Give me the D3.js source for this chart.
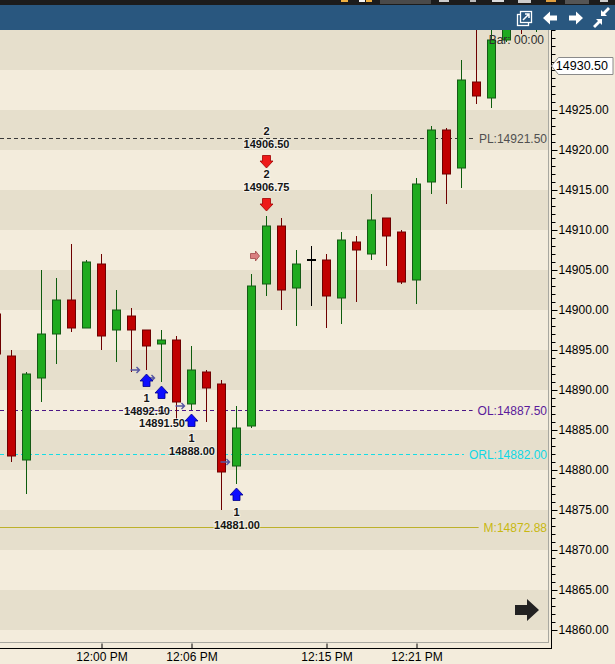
<!DOCTYPE html>
<html><head><meta charset="utf-8">
<script src="https://cdn.jsdelivr.net/npm/d3@7"></script>
<style>
html,body{margin:0;padding:0;background:#f3ecdc;overflow:hidden;}
svg{display:block;font-family:"Liberation Sans",Arial,sans-serif;}
</style></head><body>
<svg id="c" width="615" height="664"></svg>
<script>
// ---------- data ----------
const barTimes = ["11:53","11:54","11:55","11:56","11:57","11:58","11:59","12:00","12:01","12:02",
  "12:03","12:04","12:05","12:06","12:07","12:08","12:09","12:10","12:11","12:12",
  "12:13","12:14","12:15","12:16","12:17","12:18","12:19","12:20","12:21","12:22",
  "12:23","12:24","12:25","12:26","12:27","12:28","12:29"];
const opens  = [14899.5,14894.25,14881.25,14891.5,14897,14901.25,14897.75,14905.75,14897.5,14899.25,
  14897.5,14895.75,14896.25,14888.25,14892.25,14890.75,14880.5,14885.5,14903.25,14910.5,
  14902.75,14906.25,14906.25,14901.5,14908.5,14907,14911.5,14909.75,14903.75,14916,
  14922.5,14917.75,14928.5,14926.5,14933.75,14939,14936.5];
const highs  = [14901,14895,14892.25,14905,14904,14908.25,14906.25,14907,14902.5,14900.25,
  14897.5,14897.5,14896.75,14895.5,14892.5,14891.25,14888,14904.5,14911.75,14911.5,
  14907.5,14908,14907,14909.75,14909.25,14914.5,14911.5,14910,14916.5,14923,
  14922.75,14931.25,14937,14936,14938.5,14940,14939];
const lows   = [14893.5,14881,14877,14888.5,14893.25,14897.25,14897.75,14895,14893.5,14892.25,
  14892.5,14891,14886.25,14887.5,14886,14875,14878.25,14885.25,14901.75,14900,
  14898,14900.5,14897.75,14898.25,14901,14906.25,14905.5,14903.25,14900.75,14914.5,
  14913.25,14915.25,14925.75,14925.25,14933.5,14934.5,14934.75];
const closes = [14894.5,14881.75,14892,14897,14901.25,14897.75,14906,14896.75,14900,14897.5,
  14895.5,14896.25,14888.5,14892.5,14890.25,14879.75,14885.25,14903,14910.5,14902.5,
  14905.75,14906.25,14901.75,14908.75,14907.5,14911.25,14909.25,14903.5,14915.75,14922.5,
  14917,14928.75,14926.75,14933.75,14937.5,14937,14938.5];

const priceTicks = [14860,14865,14870,14875,14880,14885,14890,14895,14900,14905,14910,14915,14920,14925,14930];
const timeTicks = ["12:00","12:06","12:15","12:21"];

const buyTimes  = ["12:03","12:04","12:06","12:09"];
const buyQty    = [1,1,1,1];
const buyPrices = [14892.50,14891.50,14888.00,14881.00];
const sellTimes  = ["12:11","12:11"];
const sellQty    = [2,2];
const sellPrices = [14906.75,14906.50];

const levelNames  = ["PL","OL","ORL","M"];
const levelValues = [14921.50,14887.50,14882.00,14872.88];

const lastPrice = 14930.50;
const barTimerText = "Bar: 00:00";

// ---------- layout ----------
const W = 615, H = 664;
const plotL = 0, plotR = 548.5, plotT = 30, plotB = 642.5;
const axisX = 551.5, axisY = 648.5;
const levelStyles = {
  PL:  {color:"#3a3a3a", label:"#505050", dash:"4,3", width:1},
  OL:  {color:"#4b1685", label:"#5a1a9a", dash:"4,3", width:1},
  ORL: {color:"#14dde6", label:"#10d8e6", dash:"4,3", width:1},
  M:   {color:"#bdb12a", label:"#c8b810", dash:null,  width:1}
};

const parse = d3.timeParse("%H:%M");
const dates = barTimes.map(parse);
const bars = dates.map((d,i)=>({d, o:opens[i], h:highs[i], l:lows[i], c:closes[i]}));

const x = d3.scaleTime().domain([dates[0], dates[dates.length-1]]).range([-3.5, 536.5]);
const y = d3.scaleLinear().domain([14860, 14935]).range([630, 30]);

const svg = d3.select("#c");
svg.append("rect").attr("width",W).attr("height",H).attr("fill","#f3ecdc");

// header
svg.append("rect").attr("x",0).attr("y",0).attr("width",W).attr("height",5).attr("fill","#1c1c1c");
svg.append("rect").attr("x",0).attr("y",5).attr("width",W).attr("height",25).attr("fill","#29577f");
// partial toolbar bits on the top strip
const tb = svg.append("g");
[[341,0,7,2,"#f0b040"],[359,0,6,2,"#f4f4f4"],[366,0,6,2,"#f0b040"],[380,0,51,4,"#4a4a4a"],
 [439,0,10,2,"#cccccc"],[470,0,6,2,"#bbbbbb"],[492,0,12,2,"#dddddd"],[518,0,13,3,"#cccccc"],
 [546,0,10,2,"#e0a040"],[565,0,24,4,"#555555"],[600,0,8,2,"#cccccc"]].forEach(r=>{
  tb.append("rect").attr("x",r[0]).attr("y",r[1]).attr("width",r[2]).attr("height",r[3]).attr("fill",r[4]);
});
// header icons
const ic = svg.append("g").attr("fill","none").attr("stroke","#ffffff").attr("stroke-width",1.3);
ic.append("rect").attr("x",517.5).attr("y",14.5).attr("width",11).attr("height",11);
ic.append("rect").attr("x",520.5).attr("y",11.5).attr("width",11).attr("height",11).attr("fill","#29577f");
ic.append("path").attr("d","M523,20 L529,14 M525,14 L529,14 L529,18").attr("stroke-width",1.5);
svg.append("path").attr("fill","#ffffff")
  .attr("d","M543,18 L550,11.5 L550,15.5 L557,15.5 L557,20.5 L550,20.5 L550,24.5 Z");
svg.append("path").attr("fill","#ffffff")
  .attr("d","M583,18 L576,11.5 L576,15.5 L569,15.5 L569,20.5 L576,20.5 L576,24.5 Z");
svg.append("path").attr("fill","#ffffff")
  .attr("d","M601,16 L601,10 L603,12 L608,7 L610,9 L605,14 L607,16 Z M602,19 L596,19 L598,21 L593,26 L595,28 L600,23 L602,25 Z");

// plot area
const plot = svg.append("g");
const clip = svg.append("clipPath").attr("id","pc");
clip.append("rect").attr("x",plotL).attr("y",plotT).attr("width",plotR-plotL).attr("height",plotB-plotT);

// bands every 5 points
const bandG = plot.append("g").attr("clip-path","url(#pc)");
for (let p = 14850; p < 14940; p += 5) {
  const dark = (((p - 14860) / 5) % 2 + 2) % 2 === 0;
  bandG.append("rect").attr("x",plotL).attr("width",plotR-plotL)
    .attr("y", y(p+5)).attr("height", y(p)-y(p+5))
    .attr("fill", dark ? "#e6dfcc" : "#f3ecdc");
}

// level lines
const lvlG = plot.append("g").attr("clip-path","url(#pc)");
levelNames.forEach((n,i)=>{
  const st = levelStyles[n];
  const yy = Math.round(y(levelValues[i])) + 0.5;
  const t = lvlG.append("text").attr("x",547).attr("y",yy).attr("text-anchor","end")
    .attr("dominant-baseline","central").attr("font-size",12).attr("fill",st.label)
    .text(n + ":" + levelValues[i].toFixed(2));
  const tw = t.node().getComputedTextLength();
  lvlG.insert("line","text").attr("x1",plotL).attr("x2",547 - tw - 5).attr("y1",yy).attr("y2",yy)
    .attr("stroke",st.color).attr("stroke-width",st.width)
    .attr("stroke-dasharray",st.dash);
});

// candles
const cG = plot.append("g").attr("clip-path","url(#pc)");
bars.forEach(b=>{
  const cx = x(b.d);
  const up = b.c > b.o, flat = b.c === b.o;
  const wick = flat ? "#000" : (up ? "#0d5c0d" : "#6e0000");
  cG.append("line").attr("x1",cx).attr("x2",cx).attr("y1",y(b.h)).attr("y2",y(b.l))
    .attr("stroke",wick).attr("stroke-width",1);
  if (flat) {
    cG.append("line").attr("x1",cx-4.5).attr("x2",cx+4.5).attr("y1",y(b.o)).attr("y2",y(b.o))
      .attr("stroke","#000").attr("stroke-width",2);
  } else {
    const top = y(Math.max(b.o,b.c)), bot = y(Math.min(b.o,b.c));
    cG.append("rect").attr("x",cx-4).attr("width",8).attr("y",top).attr("height",Math.max(1,bot-top))
      .attr("fill", up ? "#1faa1f" : "#c00000")
      .attr("stroke", up ? "#145a14" : "#6e0000").attr("stroke-width",1);
  }
});

// execution markers & arrows
const eG = plot.append("g").attr("clip-path","url(#pc)");
const txtStyle = sel => sel.attr("text-anchor","middle").attr("dominant-baseline","central")
  .attr("font-size",11).attr("font-weight","bold").attr("fill","#151515")
  .attr("stroke","rgba(255,255,255,0.55)").attr("stroke-width",2).attr("paint-order","stroke");
const barByTime = t => bars[barTimes.indexOf(t)];

buyTimes.forEach((t,i)=>{
  const b = barByTime(t), cx = x(b.d), py = y(buyPrices[i]);
  eG.append("path").attr("fill","none").attr("stroke","#5555a0").attr("stroke-width",1.4)
    .attr("d",`M${cx-16},${py} L${cx-7},${py} M${cx-10},${py-3} L${cx-7},${py} L${cx-10},${py+3}`);
});
sellTimes.slice(0,1).forEach((t,i)=>{
  const b = barByTime(t), cx = x(b.d), py = y(sellPrices[i]);
  eG.append("path").attr("fill","#d98080").attr("stroke","#a04848").attr("stroke-width",0.8)
    .attr("d",`M${cx-16},${py-2.5} L${cx-11},${py-2.5} L${cx-11},${py-5} L${cx-7},${py} L${cx-11},${py+5} L${cx-11},${py+2.5} L${cx-16},${py+2.5} Z`);
});

buyTimes.forEach((t,i)=>{
  const b = barByTime(t), cx = x(b.d), top = y(b.l) + 4;
  eG.append("path").attr("fill","#0d0dff").attr("stroke","#00008a").attr("stroke-width",0.8)
    .attr("d",`M${cx},${top} L${cx+6.5},${top+7} L${cx+3.5},${top+7} L${cx+3.5},${top+12.5} L${cx-3.5},${top+12.5} L${cx-3.5},${top+7} L${cx-6.5},${top+7} Z`);
  eG.append("text").attr("x",cx).attr("y",top+24).call(txtStyle).text(buyQty[i]);
  eG.append("text").attr("x",cx+0.5).attr("y",top+37).call(txtStyle).text(buyPrices[i].toFixed(2));
});

sellTimes.forEach((t,i)=>{
  const b = barByTime(t), cx = x(b.d);
  const k = sellTimes.slice(0,i).filter(s=>s===t).length;
  const bot = y(b.h) - 5 - k*43;
  eG.append("path").attr("fill","#ee1a1a").attr("stroke","#a00000").attr("stroke-width",0.8)
    .attr("d",`M${cx},${bot} L${cx+6.5},${bot-7} L${cx+4},${bot-7} L${cx+4},${bot-12.5} L${cx-4},${bot-12.5} L${cx-4},${bot-7} L${cx-6.5},${bot-7} Z`);
  eG.append("text").attr("x",cx).attr("y",bot-24).call(txtStyle).text(sellPrices[i].toFixed(2));
  eG.append("text").attr("x",cx).attr("y",bot-37).call(txtStyle).text(sellQty[i]);
});

// frame
svg.append("line").attr("x1",plotR).attr("x2",plotR).attr("y1",plotT).attr("y2",plotB+0.5)
  .attr("stroke","#a8a8a0");
svg.append("line").attr("x1",plotL).attr("x2",plotR).attr("y1",plotB).attr("y2",plotB)
  .attr("stroke","#a8a8a0");

// right axis
const yAxisMinor = d3.axisRight(y).tickValues(d3.range(14860,14936,1)).tickSize(4).tickFormat("");
const yAxis = d3.axisRight(y).tickValues(priceTicks).tickSize(6).tickPadding(1)
  .tickFormat(d=>d.toFixed(2));
const ya1 = svg.append("g").attr("transform",`translate(${axisX},0)`).call(yAxisMinor);
const ya2 = svg.append("g").attr("transform",`translate(${axisX},0)`).call(yAxis);
[ya1,ya2].forEach(g=>{ g.select(".domain").remove(); g.selectAll("line").attr("stroke","#000"); });
ya2.selectAll("text").attr("font-size",12).attr("fill","#000")
  .attr("font-family",'"Liberation Sans",Arial,sans-serif');

// bottom axis
const xAxis = d3.axisBottom(x).tickValues(timeTicks.map(parse)).tickSizeInner(-5).tickSizeOuter(0)
  .tickPadding(4).tickFormat(d3.timeFormat("%-I:%M %p"));
const xa = svg.append("g").attr("transform",`translate(0,${axisY})`).call(xAxis);
xa.select(".domain").remove();
xa.selectAll("line").attr("stroke","#000");
xa.selectAll("text").attr("font-size",12).attr("fill","#000")
  .attr("font-family",'"Liberation Sans",Arial,sans-serif');

svg.append("line").attr("x1",axisX).attr("x2",axisX).attr("y1",plotT).attr("y2",axisY+0.5).attr("stroke","#000");
svg.append("line").attr("x1",0).attr("x2",axisX+0.5).attr("y1",axisY).attr("y2",axisY).attr("stroke","#000");

// last price marker
const ly = y(lastPrice);
svg.append("path").attr("fill","#ffffff").attr("stroke","#8a8a8a").attr("stroke-width",1)
  .attr("d",`M${axisX},${ly} L${axisX+7},${ly-8.5} L${613},${ly-8.5} L${613},${ly+8.5} L${axisX+7},${ly+8.5} Z`);
svg.append("text").attr("x",608).attr("y",ly).attr("text-anchor","end").attr("dominant-baseline","central")
  .attr("font-size",12.5).attr("fill","#000").text(lastPrice.toFixed(2));

// bar timer
svg.append("text").attr("x",544).attr("y",40).attr("text-anchor","end").attr("dominant-baseline","central")
  .attr("font-size",12).attr("fill","#2d2d2d").text(barTimerText);

// scroll-to-end arrow
svg.append("path").attr("fill","#222")
  .attr("d","M515,605 L527,605 L527,599 L539,610 L527,621 L527,615 L515,615 Z");
</script>
</body></html>
